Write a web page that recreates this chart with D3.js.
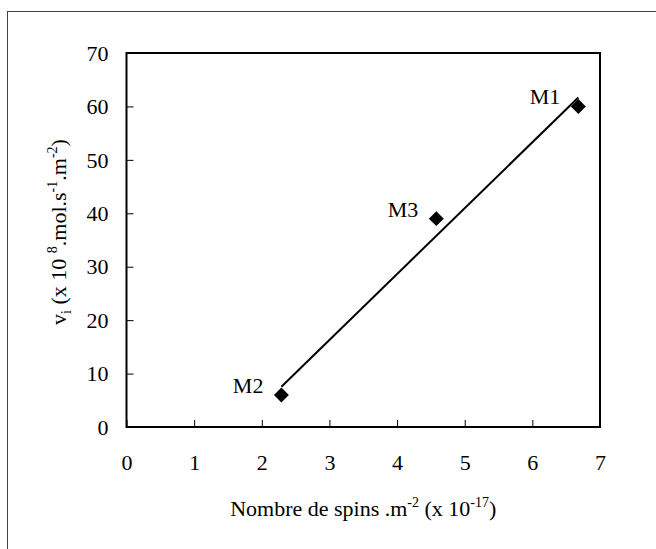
<!DOCTYPE html>
<html><head><meta charset="utf-8">
<script src="https://cdn.jsdelivr.net/npm/d3@7"></script>
<style>body{margin:0;background:#fff}svg{display:block}text{font-family:"Liberation Serif","Times New Roman",serif;fill:#000}</style>
</head><body><svg id="c" width="656" height="549"></svg>
<script>
const labels = ["M2","M3","M1"];
const spins  = [2.29, 4.58, 6.68];
const vi     = [6, 39, 60];
const xTicks = [0,1,2,3,4,5,6,7];
const yTicks = [0,10,20,30,40,50,60,70];

const svg = d3.select("#c");
const L=126.5, R=600, T=53, B=427;
const x = d3.scaleLinear().domain([0,7]).range([L,R]);
const y = d3.scaleLinear().domain([0,70]).range([B,T]);

// outer border (right and bottom edges lie outside the picture)
svg.append("rect").attr("x",7.5).attr("y",11.5).attr("width",700).attr("height",600)
  .attr("fill","none").attr("stroke","#444").attr("stroke-width",1);

// axes with inward ticks
const gx = svg.append("g").attr("transform",`translate(0,${B})`)
  .call(d3.axisBottom(x).tickValues(xTicks).tickSize(-7).tickPadding(18).tickFormat(d3.format("d")));
const gy = svg.append("g").attr("transform",`translate(${L},0)`)
  .call(d3.axisLeft(y).tickValues(yTicks).tickSize(-7).tickPadding(18).tickFormat(d3.format("d")));
[gx,gy].forEach(g=>{
  g.select(".domain").remove();
  g.selectAll("line").attr("stroke","#000");
  g.selectAll("text").attr("font-size",22).attr("font-family","Liberation Serif");
});
gx.selectAll("text").attr("y",43).attr("dy",0);
gy.selectAll("text").attr("dy","0.33em");

// frame
svg.append("rect").attr("x",L).attr("y",T).attr("width",R-L).attr("height",B-T)
  .attr("fill","none").attr("stroke","#000").attr("stroke-width",2);

// trendline (least squares)
const n=spins.length, mx=d3.mean(spins), my=d3.mean(vi);
let sxy=0,sxx=0; for(let i=0;i<n;i++){sxy+=(spins[i]-mx)*(vi[i]-my);sxx+=(spins[i]-mx)**2;}
const slope=sxy/sxx, icpt=my-slope*mx;
const x0=d3.min(spins), x1=d3.max(spins);
svg.append("line").attr("x1",x(x0)).attr("y1",y(icpt+slope*x0)).attr("x2",x(x1)).attr("y2",y(icpt+slope*x1))
  .attr("stroke","#000").attr("stroke-width",2);

// markers
svg.append("g").selectAll("path").data(spins).join("path")
  .attr("transform",(d,i)=>`translate(${x(d)},${y(vi[i])}) rotate(45)`)
  .attr("d", d3.symbol().type(d3.symbolSquare).size(112)).attr("fill","#000");

svg.append("g").selectAll("text").data(labels).join("text")
  .attr("x",(d,i)=>x(spins[i])-18).attr("y",(d,i)=>y(vi[i])-2)
  .attr("text-anchor","end").attr("font-size",22).text(d=>d);

// x title
const xt = svg.append("text").attr("x",(L+R)/2).attr("y",516).attr("text-anchor","middle").attr("font-size",22);
xt.append("tspan").text("Nombre de spins .m");
xt.append("tspan").attr("dy",-9).attr("font-size",14).text("-2");
xt.append("tspan").attr("dy",9).text(" (x 10");
xt.append("tspan").attr("dy",-9).attr("font-size",14).text("-17");
xt.append("tspan").attr("dy",9).text(")");

// y title
const yt = svg.append("text").attr("transform",`translate(66,232) rotate(-90)`).attr("text-anchor","middle").attr("font-size",22);
yt.append("tspan").text("v");
yt.append("tspan").attr("dy",5).attr("font-size",14).text("i");
yt.append("tspan").attr("dy",-5).text(" (x 10 ");
yt.append("tspan").attr("dy",-9).attr("font-size",14).text("8");
yt.append("tspan").attr("dy",9).text(".mol.s");
yt.append("tspan").attr("dy",-9).attr("font-size",14).text("-1");
yt.append("tspan").attr("dy",9).text(".m");
yt.append("tspan").attr("dy",-9).attr("font-size",14).text("-2");
yt.append("tspan").attr("dy",9).text(")");
</script></body></html>
